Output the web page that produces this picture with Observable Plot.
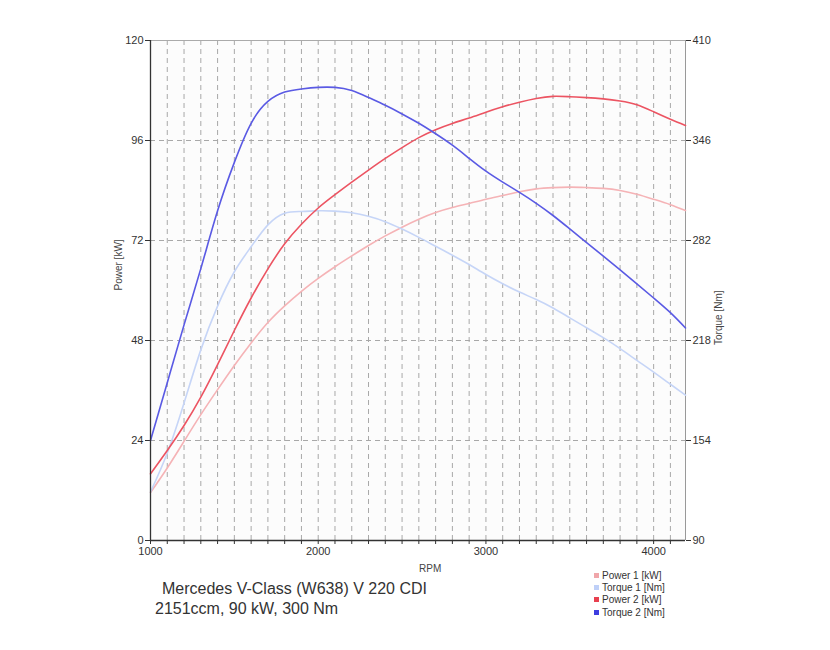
<!DOCTYPE html>
<html>
<head>
<meta charset="utf-8">
<script src="https://cdn.jsdelivr.net/npm/d3@7"></script>
<script src="https://cdn.jsdelivr.net/npm/@observablehq/plot@0.6"></script>
<style>
  body { margin: 0; background: #fff; font-family: "Liberation Sans", Arial, sans-serif; }
  #wrap { position: relative; width: 830px; height: 650px; }
  #chart { position: absolute; left: 0; top: 0; }
  .t1 { position: absolute; left: 162px; top: 580px; font-size: 16px; color: #333; }
  .t2 { position: absolute; left: 155px; top: 600px; font-size: 16px; color: #333; }
  .rpm { position: absolute; left: 419px; top: 563px; font-size: 10px; color: #444; }
  .legend { position: absolute; left: 594px; top: 570px; font-size: 10px; color: #333; line-height: 12.2px; }
  .legend span.sw { display: inline-block; width: 5px; height: 5px; margin-right: 3px; vertical-align: 1px; }
</style>
</head>
<body>
<div id="wrap">
  <div id="chart"></div>
  <div class="rpm">RPM</div>
  <div class="t1">Mercedes V-Class (W638) V 220 CDI</div>
  <div class="t2">2151ccm, 90 kW, 300 Nm</div>
  <div class="legend" id="legend"></div>
</div>
<script>
const rpm     = [1000,1100,1200,1300,1400,1500,1600,1700,1800,1900,2000,2100,2200,2300,2400,2500,2600,2700,2800,2900,3000,3100,3200,3300,3400,3500,3600,3700,3800,3900,4000,4100,4190];
const power1  = [11.5,17.4,23.8,30.2,36.2,42,47.4,52.3,56.3,59.8,62.9,65.7,68.3,70.8,73.1,75.2,77.1,78.7,79.9,80.9,81.9,82.8,83.7,84.4,84.7,84.8,84.7,84.5,84.0,83.1,81.9,80.6,79.2];
const torque1 = [121,146,178,212,240,262,278,292,299.5,300.6,301,300.8,299.8,297.5,294,289.3,284,278.3,272.6,266.6,260.2,254.3,249,244.2,238.8,232.5,226.2,219.8,212.8,205.3,197.8,190,183];
const power2  = [16,21.6,27.6,34.4,42.2,50.4,58.2,65.2,71.2,75.9,79.8,83,86,88.9,91.7,94.3,96.7,98.6,100.1,101.4,102.8,104.1,105.2,106.1,106.6,106.5,106.3,106,105.5,104.6,102.9,101.1,99.6];
const torque2 = [154,191,228,264,301,332,357,371,377,379,380,380,378,373.5,368.5,363,357,350.3,343,334.6,326.4,319.4,312.8,305.8,298,289.4,280.7,272,263.2,254.3,245.2,235.8,226];

const kwTicks = [0,24,48,72,96,120];
const nmTicks = [90,154,218,282,346,410];
const xLabelTicks = [1000,2000,3000,4000];

const seriesNames  = ["Power 1 [kW]","Torque 1 [Nm]","Power 2 [kW]","Torque 2 [Nm]"];
const seriesColors = ["#f5b3b6","#c6d5f7","#ec5462","#5a5ae4"];
const legendColors = ["#f0a6aa","#bfd0f8","#e8404f","#3d3de0"];

// torque is drawn on the right axis, mapped onto the kW scale
const nmMin = nmTicks[0], nmMax = nmTicks[nmTicks.length-1];
const kwMax = kwTicks[kwTicks.length-1];
const nmToKw = nm => (nm - nmMin) * kwMax / (nmMax - nmMin);

const rows = s => rpm.map((r,i) => ({rpm: r, v: s[i]}));
const p1 = rows(power1), p2 = rows(power2);
const t1 = rows(torque1.map(nmToKw)), t2 = rows(torque2.map(nmToKw));

const xMin = rpm[0], xMax = rpm[rpm.length-1];
const minorX = d3.range(1100, xMax, 100);
const allX = d3.range(1000, xMax, 100);

const chart = Plot.plot({
  width: 830,
  height: 650,
  marginLeft: 150,
  marginRight: 145,
  marginTop: 40,
  marginBottom: 110,
  style: {fontFamily: "Liberation Sans, Arial, sans-serif", fontSize: "11px", color: "#333", background: "transparent"},
  x: {domain: [xMin, xMax]},
  y: {domain: [0, kwMax]},
  marks: [
    Plot.frame({fill: "#fcfcfc", stroke: "none"}),
    Plot.ruleX(minorX, {stroke: "#a8a8a8", strokeDasharray: "5,4"}),
    Plot.ruleY(kwTicks.slice(1, -1), {stroke: "#a8a8a8", strokeDasharray: "5,4"}),
    Plot.ruleY([kwMax], {stroke: "#aaa"}),
    Plot.ruleX([xMax], {stroke: "#999"}),
    Plot.axisX({ticks: allX, tickSize: 4, tickPadding: 3, tickFormat: d => xLabelTicks.includes(d) ? String(d) : "", label: null, stroke: "#333"}),
    Plot.axisY({ticks: kwTicks, tickSize: 5, tickPadding: 2, label: null, anchor: "left"}),
    Plot.axisY({ticks: kwTicks, tickSize: 5, tickPadding: 2, label: null, anchor: "right", tickFormat: d => String(nmTicks[kwTicks.indexOf(d)])}),
    Plot.line(p1, {x: "rpm", y: "v", stroke: seriesColors[0], strokeWidth: 1.6, curve: "natural"}),
    Plot.line(t1, {x: "rpm", y: "v", stroke: seriesColors[1], strokeWidth: 1.6, curve: "natural"}),
    Plot.line(p2, {x: "rpm", y: "v", stroke: seriesColors[2], strokeWidth: 1.6, curve: "natural"}),
    Plot.line(t2, {x: "rpm", y: "v", stroke: seriesColors[3], strokeWidth: 1.6, curve: "natural"}),
    Plot.ruleX([xMin], {stroke: "#333", strokeWidth: 1.3}),
    Plot.ruleY([0], {stroke: "#333", strokeWidth: 1.3}),
    Plot.text(["Power [kW]"], {frameAnchor: "left", dx: -32, rotate: -90, fontSize: 10, fill: "#444"}),
    Plot.text(["Torque [Nm]"], {frameAnchor: "right", dx: 33, rotate: -90, fontSize: 10, fill: "#444"})
  ]
});
document.getElementById("chart").appendChild(chart);

const lg = document.getElementById("legend");
seriesNames.forEach((n, i) => {
  const d = document.createElement("div");
  d.innerHTML = `<span class="sw" style="background:${legendColors[i]}"></span>${n}`;
  lg.appendChild(d);
});
</script>
</body>
</html>
